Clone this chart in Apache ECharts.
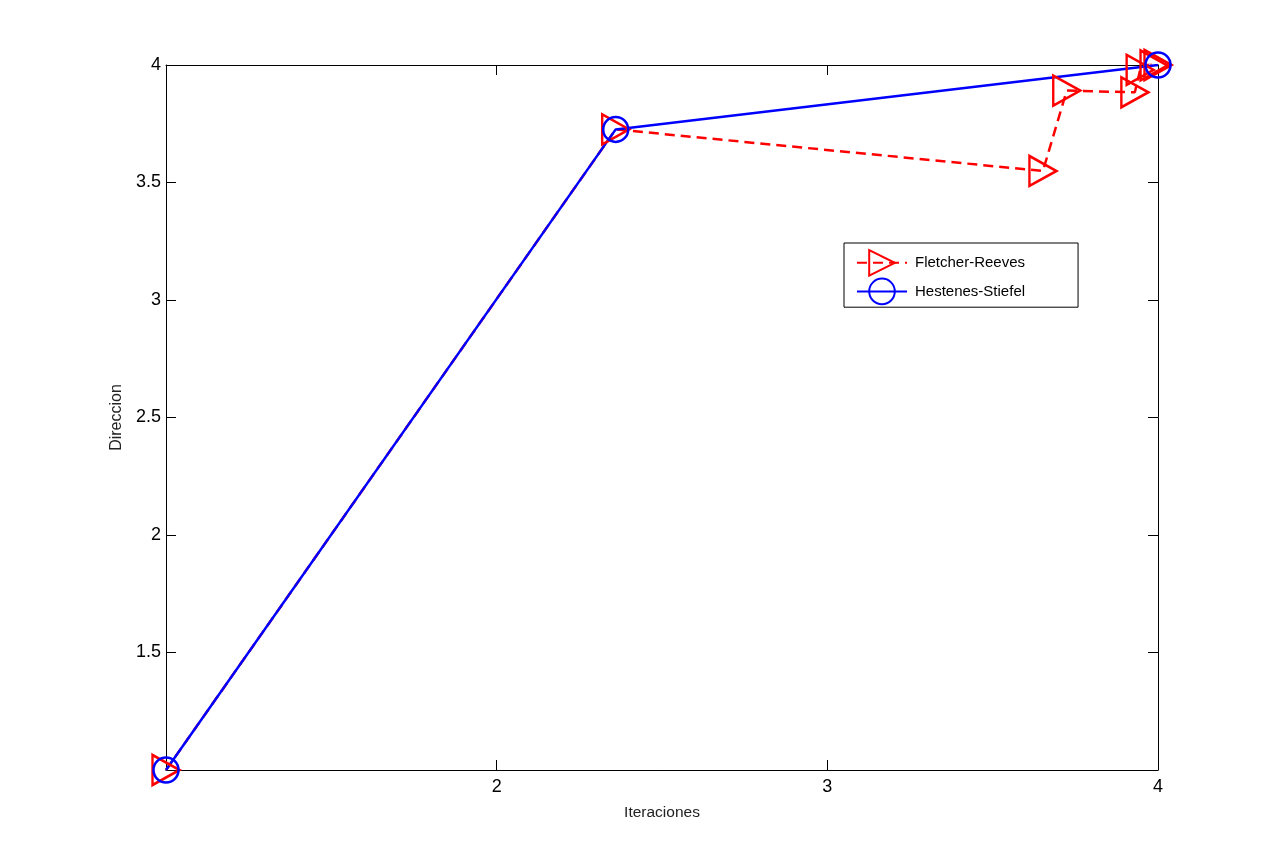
<!DOCTYPE html>
<html>
<head>
<meta charset="utf-8">
<script src="https://cdn.jsdelivr.net/npm/echarts@6/dist/echarts.min.js"></script>
<style>html,body{margin:0;padding:0;background:#fff;}#c{width:1280px;height:865px;}</style>
</head>
<body>
<div id="c"></div>
<script>
var fletcherX = [1, 2.36, 3.652, 3.724, 3.930, 3.946, 3.975, 3.988, 4.0];
var fletcherY = [1, 3.726, 3.549, 3.891, 3.884, 3.979, 4.012, 3.998, 4.0];
var hestenesX = [1, 2.36, 4.0];
var hestenesY = [1, 3.726, 4.0];
var seriesNames = ['Fletcher-Reeves', 'Hestenes-Stiefel'];
var xTicks = [1, 2, 3, 4];
var yTicks = [1, 1.5, 2, 2.5, 3, 3.5, 4];

function pairs(xs, ys) { return xs.map(function (x, i) { return [x, ys[i]]; }); }

var font = 'Liberation Sans, Arial, Helvetica, sans-serif';
var chart = echarts.init(document.getElementById('c'));
var axisCommon = {
  type: 'value',
  axisLine: { show: true, onZero: false, lineStyle: { color: '#000', width: 1 } },
  axisTick: { show: true, inside: true, length: 10, lineStyle: { color: '#000', width: 1 } },
  splitLine: { show: false }
};
chart.setOption({
  animation: false,
  backgroundColor: '#fff',
  grid: { left: 166, right: 122, top: 65, bottom: 95, containLabel: false },
  legend: {
    orient: 'vertical',
    left: 844,
    top: 243,
    backgroundColor: '#fff',
    borderColor: '#000',
    borderWidth: 1,
    borderRadius: 0,
    padding: [6, 53, 2, 12],
    itemGap: 1,
    itemWidth: 50,
    itemHeight: 32,
    textStyle: { fontFamily: font, fontSize: 15, color: '#000', padding: [0, 0, 0, 3] },
    data: seriesNames
  },
  xAxis: [
    Object.assign({}, axisCommon, {
      position: 'bottom', min: 1, max: 4, interval: 1,
      name: 'Iteraciones', nameLocation: 'middle', nameGap: 35,
      nameTextStyle: { fontFamily: font, fontSize: 15.5, color: '#222' },
      axisLabel: { fontFamily: font, fontSize: 18, color: '#000', margin: 8,
        formatter: function (v) { return v === xTicks[0] ? '' : String(v); } }
    }),
    Object.assign({}, axisCommon, {
      position: 'top', min: 1, max: 4, interval: 1, axisLabel: { show: false }
    })
  ],
  yAxis: [
    Object.assign({}, axisCommon, {
      position: 'left', min: 1, max: 4, interval: 0.5,
      name: 'Direccion', nameLocation: 'middle', nameGap: 40,
      nameTextStyle: { fontFamily: font, fontSize: 16, color: '#222' },
      axisLabel: { fontFamily: font, fontSize: 18, color: '#000', margin: 5,
        formatter: function (v) { return v === yTicks[0] ? '' : String(v); } }
    }),
    Object.assign({}, axisCommon, {
      position: 'right', min: 1, max: 4, interval: 0.5, axisLabel: { show: false }
    })
  ],
  series: [
    {
      name: seriesNames[0], type: 'line', xAxisIndex: 0, yAxisIndex: 0,
      data: pairs(fletcherX, fletcherY),
      symbol: 'triangle', symbolRotate: -90, symbolSize: [30, 27], showAllSymbol: true,
      lineStyle: { color: '#ff0000', width: 2.5, type: [10, 6] },
      itemStyle: { color: 'rgba(0,0,0,0)', borderColor: '#ff0000', borderWidth: 2.5 }
    },
    {
      name: seriesNames[1], type: 'line', xAxisIndex: 0, yAxisIndex: 0,
      data: pairs(hestenesX, hestenesY),
      symbol: 'circle', symbolSize: 25, showAllSymbol: true,
      lineStyle: { color: '#0000ff', width: 2.5 },
      itemStyle: { color: 'rgba(0,0,0,0)', borderColor: '#0000ff', borderWidth: 2.5 }
    }
  ]
});
</script>
</body>
</html>
